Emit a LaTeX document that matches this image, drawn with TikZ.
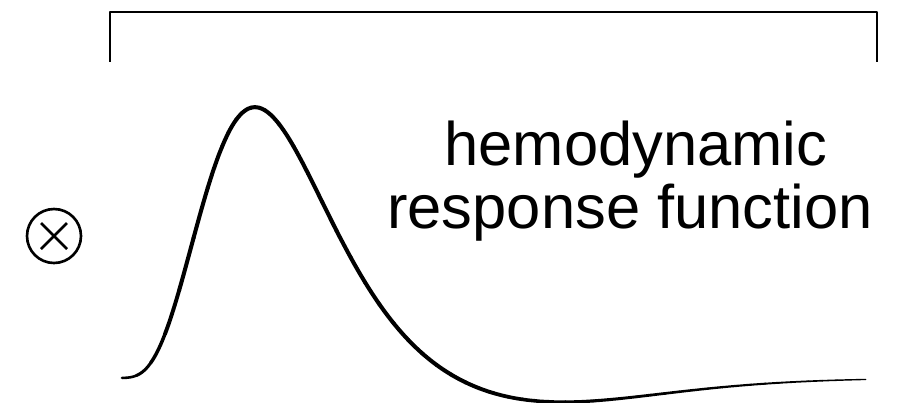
\documentclass[tikz,border=0pt]{standalone}
\usepackage{fontspec}
\setmainfont{Liberation Sans}
\usetikzlibrary{positioning}

\begin{document}
\begin{tikzpicture}[x=0.02cm,y=-0.02cm,line join=round,
    declare function={hrf(\t)=exp(5*ln(\t)-\t+2.5545)-exp(15*ln(\t)-\t-22.349);}]
    % size of the picture (pixels of the original)
    \useasboundingbox (0,0) rectangle (908,402);
    \def\tzero{112}  % x of t=0
    \def\tscale{28.6} % px per second
    \def\base{378}   % baseline of the response

    % bracket over the response
    \draw[line width=1.4pt] (110,62) -- (110,12) -- (877,12) -- (877,62);

    % convolution sign
    \draw[line width=1.5pt] (54,236) circle (27);
    \draw[line width=1.5pt] (41,223) -- (67,249) (41,249) -- (67,223);

    % the response curve (thinner at both ends)
    \foreach \a in {0.35,0.85,...,25.85} {
        \pgfmathsetmacro\b{\a+0.5}
        \pgfmathsetmacro\w{min(2.3,1.3+0.5*\a,2.3-0.11*max(\a-12,0))}
        \draw[line width=\w pt,line cap=round]
            plot[domain=\a:\b,samples=8,smooth] ({\tzero+\tscale*\x},{\base-hrf(\x)});
    }

    % label
    \node (hemo) [anchor=base,font=\fontsize{35}{36}\selectfont] at (636,165) {hemodynamic};
    \node (resp) [anchor=base,font=\fontsize{35}{36}\selectfont] at (630,228) {response function};
\end{tikzpicture}
\end{document}
